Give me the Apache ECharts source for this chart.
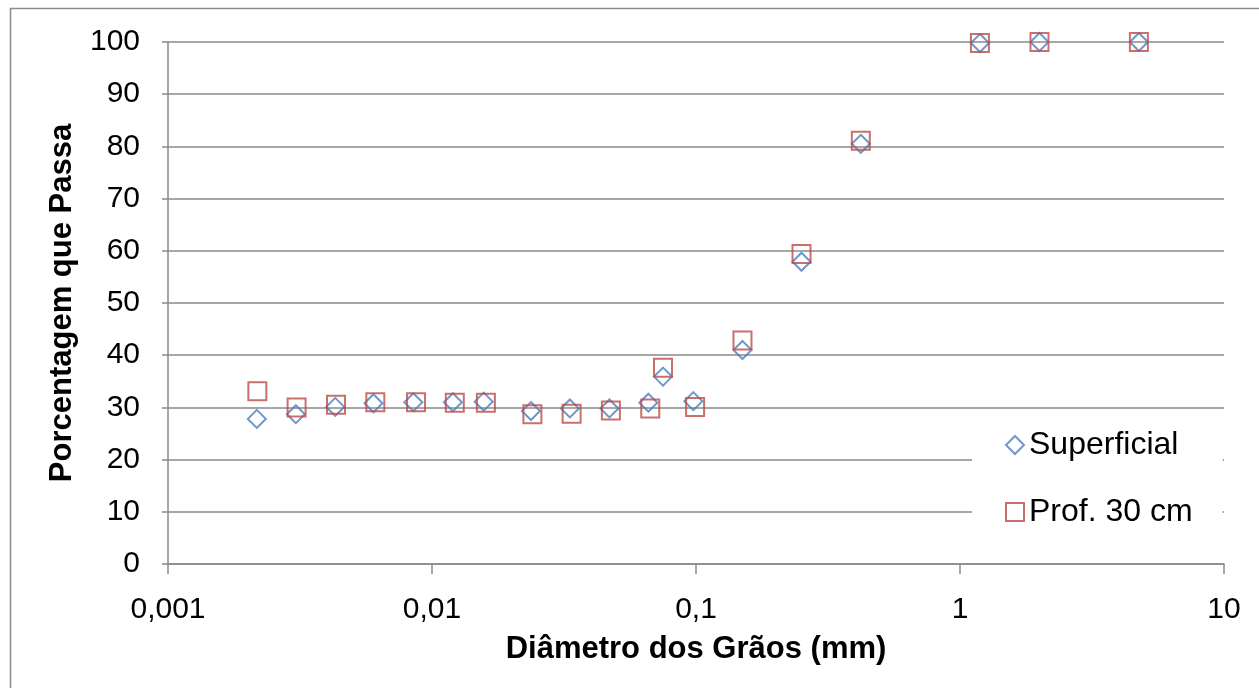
<!DOCTYPE html>
<html>
<head>
<meta charset="utf-8">
<title>Curva granulométrica</title>
<script src="https://cdn.jsdelivr.net/npm/echarts@6/dist/echarts.min.js"></script>
<style>
  html, body { margin: 0; padding: 0; background: #fff; }
  #chart { width: 1259px; height: 688px; }
</style>
</head>
<body>
<div id="chart"></div>
<script>
// Grain-size distribution: diameter (mm) vs. percentage passing
const superficialDiam = [0.00217, 0.00305, 0.0043, 0.0060, 0.0085, 0.0120, 0.0157, 0.0237, 0.0333, 0.0470, 0.0660, 0.075, 0.0977, 0.150, 0.251, 0.421, 1.19, 2.0, 4.76];
const superficialPct  = [27.8, 28.7, 30.1, 30.8, 31.0, 31.0, 31.1, 29.3, 29.8, 29.8, 30.9, 35.9, 31.2, 41.0, 57.9, 80.5, 99.8, 100, 100];

const prof30Diam = [0.00218, 0.00307, 0.00433, 0.0061, 0.0087, 0.0122, 0.0160, 0.0240, 0.0338, 0.0476, 0.0671, 0.075, 0.0992, 0.150, 0.251, 0.421, 1.19, 2.0, 4.76];
const prof30Pct  = [33.1, 30.0, 30.5, 31.0, 31.0, 30.9, 30.9, 28.7, 28.8, 29.4, 29.8, 37.6, 30.1, 42.8, 59.4, 81.1, 99.8, 100, 100];

const xTickLabels = { 0.001: '0,001', 0.01: '0,01', 0.1: '0,1', 1: '1', 10: '10' };

const pairs = (xs, ys) => xs.map((x, i) => [x, ys[i]]);

const FONT = '"Liberation Sans", Arial, sans-serif';
const GRID_GRAY = '#8a8a8a';

const chart = echarts.init(document.getElementById('chart'), null, { renderer: 'canvas' });

chart.setOption({
  animation: false,
  backgroundColor: '#fff',
  graphic: [{
    type: 'rect',
    shape: { x: 10.5, y: 8.5, width: 1270, height: 700 },
    style: { fill: 'none', stroke: '#8c8c8c', lineWidth: 1.5 },
    silent: true,
    z: -1
  }],
  grid: { left: 168, right: 35, top: 42, bottom: 124, containLabel: false },
  xAxis: {
    type: 'log',
    logBase: 10,
    min: 0.001,
    max: 10,
    name: 'Diâmetro dos Grãos (mm)',
    nameLocation: 'middle',
    nameGap: 70,
    nameTextStyle: { fontFamily: FONT, fontSize: 31, fontWeight: 'bold', color: '#000' },
    axisLine: { show: true, lineStyle: { color: GRID_GRAY, width: 1.5 } },
    axisTick: { show: true, inside: false, length: 10, lineStyle: { color: GRID_GRAY, width: 1.5 } },
    minorTick: { show: false },
    splitLine: { show: false },
    axisLabel: {
      fontFamily: FONT, fontSize: 30, color: '#000', margin: 31,
      formatter: v => xTickLabels[+v.toPrecision(6)] ?? String(v).replace('.', ',')
    }
  },
  yAxis: {
    type: 'value',
    min: 0,
    max: 100,
    interval: 10,
    name: 'Porcentagem que Passa',
    nameLocation: 'middle',
    nameGap: 90,
    nameTextStyle: { fontFamily: FONT, fontSize: 31, fontWeight: 'bold', color: '#000' },
    axisLine: { show: true, lineStyle: { color: GRID_GRAY, width: 1.5 } },
    axisTick: { show: true, inside: false, length: 6, lineStyle: { color: GRID_GRAY, width: 1.5 } },
    splitLine: { show: true, lineStyle: { color: GRID_GRAY, width: 1.5 } },
    axisLabel: { fontFamily: FONT, fontSize: 30, color: '#000', margin: 28 }
  },
  legend: {
    orient: 'vertical',
    left: 972,
    top: 420,
    padding: [7, 30, 12, 33],
    backgroundColor: '#fff',
    itemWidth: 18,
    itemHeight: 18,
    itemGap: 31,
    textStyle: { fontFamily: FONT, fontSize: 32, color: '#000', lineHeight: 36 },
    data: ['Superficial', 'Prof. 30 cm'],
    z: 10
  },
  series: [
    {
      name: 'Superficial',
      type: 'scatter',
      symbol: 'diamond',
      symbolSize: 18,
      itemStyle: { color: 'rgba(255,255,255,0)', borderColor: '#4A7EBB', borderWidth: 2 },
      data: pairs(superficialDiam, superficialPct),
      z: 3
    },
    {
      name: 'Prof. 30 cm',
      type: 'scatter',
      symbol: 'rect',
      symbolSize: 18,
      itemStyle: { color: 'rgba(255,255,255,0)', borderColor: '#BE4B48', borderWidth: 2 },
      data: pairs(prof30Diam, prof30Pct),
      z: 4
    }
  ]
});
</script>
</body>
</html>
